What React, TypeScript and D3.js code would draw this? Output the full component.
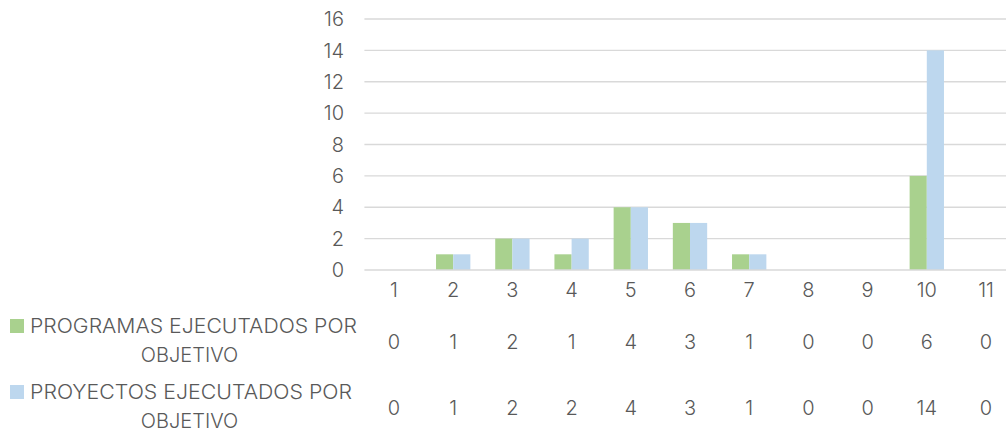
import React from "react";
import * as d3 from "d3";

const categories = ["1", "2", "3", "4", "5", "6", "7", "8", "9", "10", "11"];
const programas = [0, 1, 2, 1, 4, 3, 1, 0, 0, 6, 0];
const proyectos = [0, 1, 2, 2, 4, 3, 1, 0, 0, 14, 0];
const yTicks = [0, 2, 4, 6, 8, 10, 12, 14, 16];
const seriesNames = [
  ["PROGRAMAS EJECUTADOS POR", "OBJETIVO"],
  ["PROYECTOS EJECUTADOS POR", "OBJETIVO"],
];
const colors = ["#A9D18E", "#BDD7EE"];

export default function App() {
  const W = 1006, H = 432;
  const left = 364.4, right = left + 11 * 59.2;
  const x = d3.scaleBand().domain(categories).range([left, right]).paddingInner(0.42).paddingOuter(0.21);
  const y = d3.scaleLinear().domain([0, 16]).range([270, 19]);
  const font = "Inter, 'Open Sans', sans-serif";
  const txt = "#595959";
  const fs = 20;
  const series = [programas, proyectos];
  const rowY = [342, 408];
  const labelLen = [327, 322];
  const bw = x.bandwidth() / 2;
  return (
    <svg width={W} height={H} style={{ position: "absolute", left: 0, top: 0 }} fontFamily={font}>
      <rect width={W} height={H} fill="#fff" />
      {yTicks.map((t) => (
        <g key={t}>
          {t > 0 && <line x1={left} x2={right} y1={y(t)} y2={y(t)} stroke="#D9D9D9" strokeWidth={1.3} />}
          <text x={344} y={y(t)} dy="0.36em" textAnchor="end" fontSize={fs} fill={txt} fontWeight={300}>{t}</text>
        </g>
      ))}
      {series.map((s, si) =>
        s.map((v, i) => (
          <rect key={si + "-" + i} x={(x(categories[i]) as number) + si * bw} y={y(v)} width={bw} height={y(0) - y(v)} fill={colors[si]} />
        ))
      )}
      <line x1={left} x2={right} y1={y(0)} y2={y(0)} stroke="#D9D9D9" strokeWidth={1.3} />
      {categories.map((c) => (
        <text key={c} x={(x(c) as number) + x.bandwidth() / 2} y={289.5} dy="0.36em" textAnchor="middle" fontSize={fs} fill={txt} fontWeight={300}>{c}</text>
      ))}
      {series.map((s, si) => (
        <g key={si}>
          <rect x={10} y={rowY[si] - 23} width={14} height={14} fill={colors[si]} />
          <text x={30} y={rowY[si] - 16.5} dy="0.36em" textAnchor="start" fontSize={fs} fill={txt} fontWeight={300} textLength={labelLen[si]} lengthAdjust="spacingAndGlyphs">{seriesNames[si][0]}</text>
          <text x={189.5} y={rowY[si] + 13} dy="0.36em" textAnchor="middle" fontSize={fs} fill={txt} fontWeight={300}>{seriesNames[si][1]}</text>
          {s.map((v, i) => (
            <text key={i} x={(x(categories[i]) as number) + x.bandwidth() / 2} y={rowY[si]} dy="0.36em" textAnchor="middle" fontSize={fs} fill={txt} fontWeight={300}>{v}</text>
          ))}
        </g>
      ))}
    </svg>
  );
}
